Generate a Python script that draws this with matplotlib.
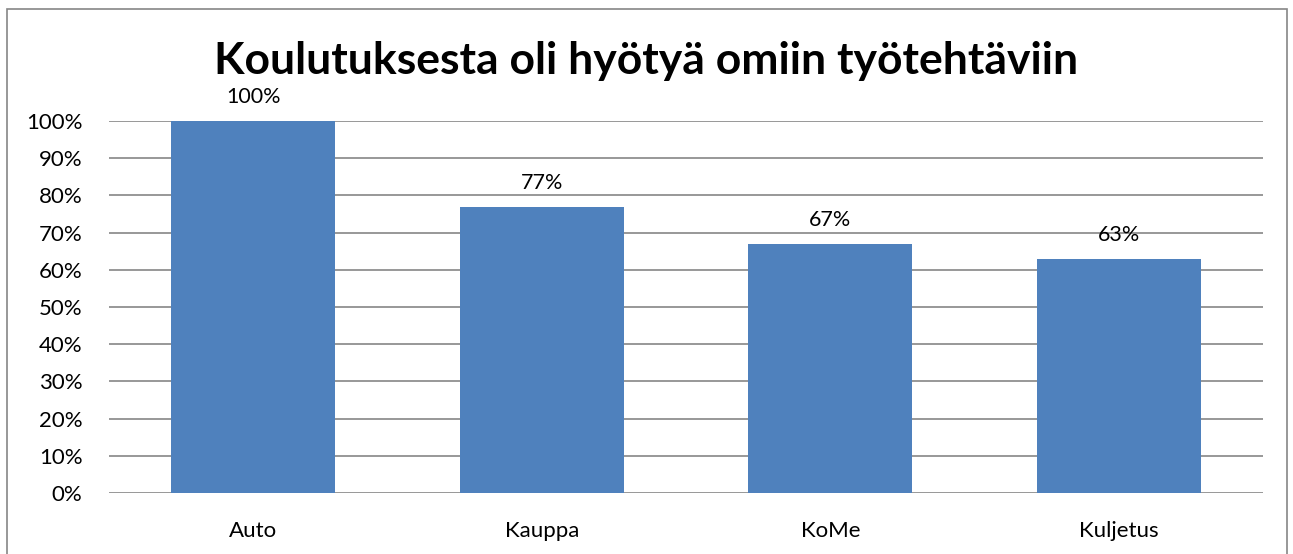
import matplotlib.pyplot as plt
from matplotlib.patches import Rectangle
from matplotlib.ticker import FuncFormatter

categories = ["Auto", "Kauppa", "KoMe", "Kuljetus"]
values = [100, 77, 67, 63]
title = "Koulutuksesta oli hyötyä omiin työtehtäviin"

plt.rcParams['font.family'] = ['Lato', 'DejaVu Sans']

fig = plt.figure(figsize=(12.93, 5.54), dpi=100)
ax = fig.add_axes([0.0843, 0.1101, 0.8925, 0.6715])

x = range(len(categories))
ax.bar(x, values, width=0.57, color='#4F81BD', zorder=3)

for xi, v in zip(x, values):
    ax.annotate(f"{v}%", (xi, v), xytext=(0, 10), textcoords='offset points',
                ha='center', va='bottom', fontsize=15.5)

ax.set_xlim(-0.5, len(categories) - 0.5)
ax.set_ylim(0, 100)
ax.set_yticks(range(0, 101, 10))
ax.yaxis.set_major_formatter(FuncFormatter(lambda v, p: f"{int(v)}%"))
ax.set_xticks(list(x))
ax.set_xticklabels(categories)
ax.tick_params(length=0, labelsize=16)
ax.tick_params(axis='y', pad=19)
ax.tick_params(axis='x', pad=20)
ax.grid(axis='y', color='#868686', linewidth=1.2, zorder=0)
for s in ax.spines.values():
    s.set_visible(False)

fig.text(0.5, 0.89, title, ha='center', va='center', fontsize=32, fontweight='bold')

fig.patches.append(Rectangle((7 / 1293, -0.02), 1280 / 1293, 1.02 - 9 / 554,
                             transform=fig.transFigure, fill=False,
                             edgecolor='#868686', linewidth=1.2))

fig.savefig('out.png', dpi=100)
